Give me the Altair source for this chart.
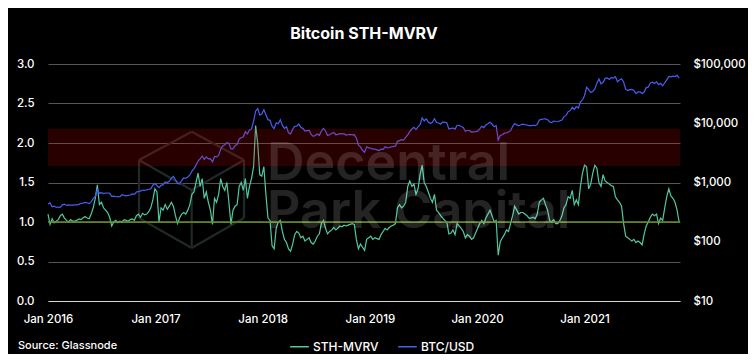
import altair as alt
import pandas as pd

# ---- STH-MVRV, weekly readings (from 2016-01-01) ----
sth_2016 = [1.10, 0.97, 1.04, 0.99, 1.01,
            1.03, 1.08, 1.10, 1.05,
            1.02, 1.00, 1.03, 1.01,
            1.01, 1.02, 1.04, 1.03, 1.05,
            1.07, 1.05, 1.04, 1.10,
            1.18, 1.30, 1.47, 1.22,
            1.25, 1.18, 1.15, 1.12, 1.06,
            0.95, 1.00, 1.02, 0.99,
            1.01, 1.00, 1.03, 1.02, 1.01,
            1.03, 1.04, 1.02, 1.08,
            1.10, 1.06, 1.11, 1.09,
            1.10, 1.13, 1.18, 1.28, 1.42]
sth_2017 = [1.38, 1.00, 1.18, 1.15,
            1.22, 1.16, 1.20, 1.25,
            1.20, 1.08, 0.98, 1.05, 1.10,
            1.12, 1.10, 1.15, 1.22,
            1.35, 1.38, 1.50, 1.62,
            1.45, 1.55, 1.30, 1.38, 1.25,
            1.15, 0.97, 1.30, 1.25,
            1.35, 1.55, 1.45, 1.40,
            1.50, 1.25, 0.97, 1.15, 1.20,
            1.22, 1.45, 1.50, 1.40,
            1.55, 1.30, 1.45, 1.55,
            1.70, 2.22, 2.00, 1.60, 1.58]
sth_2018 = [1.70, 1.35, 1.05, 1.02,
            0.70, 0.66, 0.92, 1.00,
            1.02, 0.88, 0.78, 0.74, 0.66,
            0.63, 0.72, 0.84, 0.88,
            0.86, 0.80, 0.82, 0.76,
            0.78, 0.80, 0.74, 0.72, 0.76,
            0.82, 0.85, 0.98, 1.02,
            0.92, 0.85, 0.88, 0.90, 0.93,
            0.90, 0.92, 0.95, 0.94,
            0.96, 0.95, 0.96, 0.97,
            0.98, 0.97, 0.78, 0.66, 0.72,
            0.68, 0.64, 0.78, 0.80]
sth_2019 = [0.82, 0.78, 0.80, 0.79,
            0.78, 0.84, 0.88, 0.92,
            0.90, 0.93, 0.95, 0.96, 0.98,
            1.18, 1.22, 1.18, 1.20,
            1.25, 1.45, 1.52, 1.45, 1.48,
            1.35, 1.42, 1.60, 1.72,
            1.50, 1.45, 1.38, 1.30,
            1.25, 1.35, 1.15, 1.12, 1.08,
            1.05, 1.02, 1.00, 0.85,
            0.86, 0.90, 0.84, 0.98,
            0.95, 0.92, 0.88, 0.80, 0.84,
            0.82, 0.78, 0.80, 0.86]
sth_2020 = [0.92, 0.98, 1.02, 0.98, 1.05,
            1.10, 1.15, 1.08, 1.00,
            1.02, 0.58, 0.75, 0.80,
            0.84, 0.90, 0.88, 0.98,
            1.08, 1.20, 1.15, 1.10, 1.12,
            1.12, 1.10, 1.08, 1.05,
            1.05, 1.06, 1.04, 1.10, 1.25,
            1.28, 1.30, 1.22, 1.15,
            1.02, 1.00, 1.03, 0.98,
            0.98, 1.02, 1.08, 1.18, 1.22,
            1.32, 1.30, 1.40, 1.22,
            1.28, 1.22, 1.45, 1.62]
sth_2021 = [1.72, 1.70, 1.42, 1.48, 1.62,
            1.72, 1.68, 1.50, 1.45,
            1.60, 1.52, 1.50, 1.48,
            1.46, 1.45, 1.32, 1.28, 1.25,
            1.20, 0.98, 0.82, 0.80,
            0.78, 0.76, 0.78, 0.74,
            0.76, 0.74, 0.71, 0.85, 0.95,
            1.00, 1.06, 1.10, 1.08,
            1.10, 0.98, 1.05, 1.02,
            1.18, 1.32, 1.42, 1.33, 1.30,
            1.25, 1.15, 1.00]

# ---- BTC/USD, weekly readings ----
btc_2016 = [434, 453, 390, 400, 380,
            386, 380, 420, 432,
            410, 418, 415, 416,
            420, 420, 428, 445, 450,
            460, 455, 440, 470,
            540, 580, 760, 660,
            675, 650, 665, 665, 655,
            585, 590, 575, 578,
            575, 622, 608, 597, 608,
            615, 640, 630, 690,
            705, 715, 745, 735,
            755, 770, 780, 900, 960]
btc_2017 = [890, 820, 895, 920,
            1020, 1000, 1050, 1180,
            1270, 1110, 970, 940, 1080,
            1190, 1170, 1240, 1340,
            1560, 1720, 1960, 2300,
            2500, 2800, 2450, 2700, 2500,
            2520, 2230, 2750, 2700,
            2860, 3650, 4150, 4350,
            4700, 4600, 3700, 3690, 4180,
            4400, 5430, 5700, 5900,
            7200, 6600, 7700, 8000,
            10900, 16000, 17700, 13800, 14300]
btc_2018 = [16900, 13900, 11500, 11200,
            8900, 8100, 10200, 9800,
            11500, 9200, 8200, 8700, 6900,
            6600, 7900, 8900, 8900,
            9700, 8500, 8200, 7400,
            7500, 7600, 6500, 6000, 6200,
            6600, 6250, 7400, 8200,
            7400, 6200, 6400, 6700, 7000,
            6400, 6500, 6700, 6600,
            6600, 6300, 6400, 6500,
            6350, 6400, 5600, 4300, 4000,
            3500, 3250, 4000, 3850]
btc_2019 = [3800, 3650, 3650, 3550,
            3450, 3650, 3620, 4000,
            3850, 3900, 4000, 4050, 4100,
            4950, 5100, 5300, 5200,
            5800, 6350, 7300, 8000, 8550,
            7800, 8700, 9500, 12300,
            11000, 11800, 10500, 9900,
            10400, 11900, 10300, 10100, 9600,
            10500, 10350, 10200, 8000,
            8200, 8300, 7950, 9250,
            9250, 8800, 8500, 7300, 7550,
            7550, 7100, 7150, 7200]
btc_2020 = [7350, 8050, 8900, 8450, 9350,
            9800, 10350, 9700, 8700,
            9100, 5200, 6200, 6400,
            6800, 6850, 7100, 7500,
            8800, 9900, 9400, 9100, 9450,
            9650, 9450, 9350, 9150,
            9100, 9250, 9150, 9550, 11350,
            11600, 11800, 11850, 11500,
            10500, 10300, 10900, 10700,
            10600, 11050, 11350, 12950, 13550,
            15600, 16300, 18700, 17100,
            19150, 18050, 23000, 24700]
btc_2021 = [29400, 40500, 36800, 33000, 34300,
            38000, 47500, 56000, 46300,
            48600, 57200, 58300, 55000,
            59000, 58000, 61300, 50000, 53600,
            56400, 49700, 37500, 35600,
            36900, 37300, 35800, 31600,
            33800, 33800, 31800, 33700, 40000,
            40900, 47800, 49400, 46900,
            50000, 44900, 47300, 42800,
            48200, 54000, 61500, 60700, 62200,
            61500, 64300, 57500]

series_names = ["STH-MVRV", "BTC/USD"]
series_colors = ["#52c7a6", "#4b5cf2"]
left_ticks = [0.0, 0.5, 1.0, 1.5, 2.0, 2.5, 3.0]
right_ticks = [10, 100, 1000, 10000, 100000]
year_ticks = [2016, 2017, 2018, 2019, 2020, 2021]
band_range = [1.71, 2.18]
baseline_value = [1.0]
watermark_text = "Decentral\nPark Capital"

# watermark cube logo outline (decoration, pixel offsets inside the plot area)
logo_x1 = [143.7, 143.7, 91, 196, 91, 196, 91, 196, 143.7]
logo_y1 = [67.7, 67.7, 96, 96, 154, 154, 96, 96, 126]
logo_x2 = [91, 196, 91, 196, 143.7, 143.7, 143.7, 143.7, 143.7]
logo_y2 = [96, 96, 154, 154, 184, 184, 126, 126, 184]

sth = sth_2016 + sth_2017 + sth_2018 + sth_2019 + sth_2020 + sth_2021
btc = btc_2016 + btc_2017 + btc_2018 + btc_2019 + btc_2020 + btc_2021
dates = pd.date_range("2016-01-01", periods=len(sth), freq="7D")

df_sth = pd.DataFrame({"date": dates, "value": sth, "series": series_names[0]})
df_btc = pd.DataFrame({"date": dates, "value": btc, "series": series_names[1]})
df_logo = pd.DataFrame({"x1": logo_x1, "y1": logo_y1, "x2": logo_x2, "y2": logo_y2})

FONT = "Inter"
xdom = [alt.DateTime(year=2016, month=1, date=1), alt.DateTime(year=2021, month=11, date=22)]
x_axis = alt.Axis(
    values=[alt.DateTime(year=y, month=1, date=1) for y in year_ticks],
    format="%b %Y", title=None, grid=False, ticks=False, orient="bottom",
    domain=True, domainColor="#d8d8d8", domainWidth=1.2,
    labelColor="white", labelFontSize=11.5, labelFontWeight=500,
    labelPadding=12, labelFlush=False, labelFont=FONT,
)
x_main = alt.X("date:T", scale=alt.Scale(domain=xdom), axis=x_axis)
x_plain = alt.X("date:T", scale=alt.Scale(domain=xdom), axis=None)
left_scale = alt.Scale(domain=[0, 3], nice=False, zero=False)

color_enc = alt.Color(
    "series:N",
    scale=alt.Scale(domain=series_names, range=series_colors),
    legend=alt.Legend(
        title=None, orient="none", direction="horizontal",
        legendX=241, legendY=272,
        symbolType="stroke", symbolStrokeWidth=1.5, symbolSize=350,
        labelColor="white", labelFontSize=12, labelFont=FONT, labelFontWeight=500,
        labelOffset=3, columnPadding=16,
    ),
)

logo = alt.Chart(df_logo).mark_rule(color="#1f2925", strokeWidth=2.2).encode(
    x=alt.X("x1:Q", scale=None, axis=None),
    y=alt.Y("y1:Q", scale=None, axis=None),
    x2="x2:Q", y2="y2:Q",
)

sth_line = alt.Chart(df_sth).mark_line(strokeWidth=1.2).encode(
    x=x_main,
    y=alt.Y("value:Q", scale=left_scale,
            axis=alt.Axis(values=left_ticks, format=".1f", title=None, orient="left",
                          grid=True, gridColor="#555555", gridWidth=1,
                          domain=False, ticks=False, labelPadding=14,
                          labelColor="white", labelFontSize=11.5, labelFontWeight=500,
                          labelFont=FONT)),
    color=color_enc,
)

btc_line = alt.Chart(df_btc).mark_line(strokeWidth=1.2).encode(
    x=x_plain,
    y=alt.Y("value:Q", scale=alt.Scale(type="log", domain=[10, 100000], nice=False),
            axis=alt.Axis(values=right_ticks, format="$,.0f", title=None, orient="right",
                          grid=False, domain=False, ticks=False, labelPadding=13,
                          labelColor="white", labelFontSize=11.5, labelFontWeight=500,
                          labelFont=FONT)),
    color=color_enc,
)

rule = alt.Chart(pd.DataFrame({"v": baseline_value})).mark_rule(
    color="#6b8f24", strokeWidth=1.3
).encode(y=alt.Y("v:Q", scale=left_scale, axis=None))

band = alt.Chart(pd.DataFrame({"lo": [band_range[0]], "hi": [band_range[1]]})).mark_rect(
    color="#ff0000", opacity=0.16
).encode(y=alt.Y("lo:Q", scale=left_scale, axis=None), y2="hi:Q")

watermark = alt.Chart(pd.DataFrame({"t": [watermark_text]})).mark_text(
    align="left", baseline="alphabetic", fontSize=52, fontWeight=600, font=FONT,
    color="white", opacity=0.14, lineBreak="\n", lineHeight=48,
).encode(text="t:N", x=alt.value(219), y=alt.value(116))

source = alt.Chart(pd.DataFrame({"t": ["Source: Glassnode"]})).mark_text(
    align="left", baseline="middle", fontSize=11, fontWeight=500, font=FONT, color="white",
).encode(text="t:N", x=alt.value(-30), y=alt.value(282))

chart = alt.layer(logo, sth_line, btc_line, rule, band, watermark, source).resolve_scale(
    y="independent", x="independent"
).properties(
    width=632, height=237,
    padding={"left": 40, "top": 56, "right": 68, "bottom": 53},
    autosize=alt.AutoSizeParams(type="none"),
    background="black",
    title=alt.TitleParams("Bitcoin STH-MVRV", fontSize=16, fontWeight="bold",
                          color="white", anchor="middle", offset=16, font=FONT),
).configure_view(stroke=None)

chart.save("out.html", embed_options={"renderer": "svg", "actions": False})
